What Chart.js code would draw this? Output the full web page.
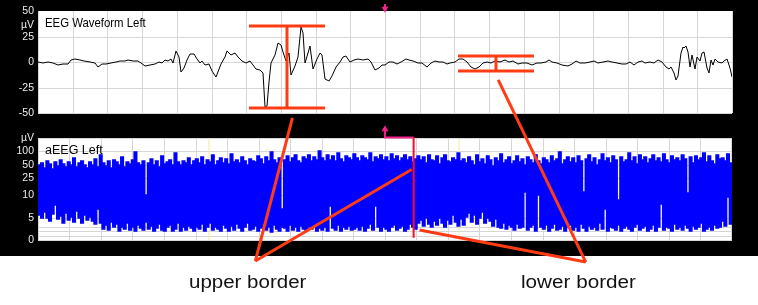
<!DOCTYPE html>
<html><head><meta charset="utf-8">
<script src="https://cdn.jsdelivr.net/npm/chart.js@4.4.1/dist/chart.umd.min.js"></script>
<style>
html,body{margin:0;padding:0;background:#fff;}
#stage{position:relative;width:758px;height:305px;overflow:hidden;background:#fff;}
#dark{position:absolute;left:0;top:0;width:758px;height:256px;background:#000;}
canvas{position:absolute;left:0;}
#eeg{top:0;}
#aeeg{top:128px;}
#overlay{top:0;pointer-events:none;}
.lbl{position:absolute;white-space:nowrap;font-family:'Liberation Sans',Arial,sans-serif;line-height:1;transform-origin:0 0;color:#000;}
</style></head>
<body>
<div id="stage">
  <div id="dark"></div>
  <canvas id="eeg" width="758" height="125"></canvas>
  <canvas id="aeeg" width="758" height="127"></canvas>
  <div class="lbl" style="left:45px;top:15.7px;font-size:13px;transform:scaleX(0.875);">EEG Waveform Left</div>
  <div class="lbl" style="left:45px;top:143.7px;font-size:12.5px;">aEEG Left</div>
  <canvas id="overlay" width="758" height="305"></canvas>
  <div class="lbl" style="left:189px;top:274.4px;font-size:17.6px;transform:scaleX(1.165);color:#111;">upper border</div>
  <div class="lbl" style="left:521px;top:274.4px;font-size:17.6px;transform:scaleX(1.175);color:#111;">lower border</div>
</div>
<script>
// ---------------- DATA ----------------
// EEG waveform (time in s, amplitude in µV)
const eegTime = [
  0,0.14,0.29,0.43,0.58,0.72,0.86,0.96,1.06,1.20,
  1.34,1.49,1.63,1.73,1.83,1.97,2.11,2.26,2.35,2.50,
  2.59,2.74,2.88,2.98,3.09,3.22,3.36,3.48,3.57,3.65,
  3.75,3.82,3.89,3.99,4.05,4.11,4.20,4.29,4.37,4.50,
  4.57,4.66,4.73,4.80,4.92,5.00,5.14,5.26,5.38,5.45,
  5.55,5.67,5.76,5.88,6.00,6.10,6.20,6.29,6.39,6.48,
  6.53,6.59,6.65,6.72,6.82,6.92,6.99,7.07,7.16,7.22,
  7.30,7.40,7.49,7.59,7.65,7.70,7.78,7.84,7.93,8.03,
  8.12,8.18,8.28,8.38,8.47,8.60,8.69,8.79,8.89,8.98,
  9.11,9.22,9.37,9.51,9.61,9.70,9.82,9.92,10.00,
  10.12,10.24,10.34,10.46,10.60,10.69,10.82,10.96,11.08,11.20,
  11.33,11.44,11.56,11.68,11.78,11.87,12.02,12.13,12.26,12.35,
  12.48,12.59,12.71,12.81,12.93,13.05,13.17,13.31,13.46,13.57,
  13.70,13.82,13.94,14.08,14.23,14.37,14.51,14.63,14.73,14.82,
  14.95,15.09,15.26,15.38,15.49,15.62,15.76,15.91,16.03,16.15,
  16.29,16.42,16.55,16.68,16.82,16.94,17.06,17.19,17.30,17.40,
  17.49,17.64,17.76,17.88,17.99,18.09,18.18,18.24,18.32,18.38,
  18.45,18.52,18.58,18.63,18.67,18.74,18.80,18.86,18.93,19.00,
  19.07,19.13,19.20,19.27,19.34,19.39,19.46,19.51,19.61,19.70,
  19.78,19.86,19.93,20.00
];
const eegMicrovolts = [
  0.3,-0.7,-0.3,-1.3,-2.9,-1.6,-2.0,1.6,2.6,2.3,
  1.3,0,-0.7,-4.6,-2.0,-2.3,-1.3,0,0.7,1.0,
  2.0,1.3,1.0,-0.7,-3.9,-2.6,-2.0,0.3,-0.7,2.0,
  0.7,3.3,-1.0,11.1,4.6,-9.5,-5.9,2.0,7.5,7.8,
  2.6,-0.7,0.7,-2.6,-1.6,-8.5,-14.4,-2.0,5.2,10.5,
  6.5,8.5,4.6,0.7,-1.3,0.7,-2.9,-6.5,-7.8,-11.1,
  -44.4,-43.1,-19.3,-1.3,6.5,19.0,17.0,9.8,1.3,8.5,
  -12.7,-3.9,4.6,34.0,28.1,-0.7,8.5,15.7,-6.5,2.6,
  8.5,6.9,-16.3,-18.3,-13.7,-4.6,0.3,4.6,5.9,0,
  2.0,3.3,2.0,3.3,0.3,-7.8,-5.9,-2.6,-2.9,
  0,-0.3,-1.6,0.3,3.3,2.0,0.7,-0.7,-1.3,-4.6,
  -0.7,0.7,-0.3,0,-1.6,-1.3,0,2.6,2.9,0.3,
  -4.6,-6.5,-4.6,-0.7,0,-1.0,0.7,0,2.0,-0.3,
  0.7,-2.3,-1.3,-1.0,-2.6,-1.3,-0.7,-0.3,2.3,-0.3,
  -1.0,-2.9,-3.6,-2.0,0.7,-1.3,-0.7,0,0.7,-1.3,
  -0.3,0.7,-0.3,-1.3,-1.6,-1.6,0.3,-2.6,0,1.3,
  -1.0,0.3,-1.0,2.0,-0.3,-5.2,-7.2,-5.2,-11.1,-17.6,
  -13.7,8.5,15.0,13.4,15.7,9.8,-4.6,7.2,-6.5,5.2,
  0.7,8.5,9.8,-6.2,-11.1,2.0,-2.6,2.6,0,-0.7,
  1.3,2.6,-6.2,-14.4
];
const eegTickValues = [50, 36.3, 25, 0, -25, -50];
const eegTickLabels = ['50', 'µV', '25', '0', '-25', '-50'];

// border brackets on the EEG trace: [left, centre, right] time, [upper, lower] level (µV)
const upperBracketTime = [6.07, 7.18, 8.28];
const upperBracketLevels = [35.3, -45.4];
const lowerBracketTime = [12.10, 13.20, 14.30];
const lowerBracketLevels = [6.2, -8.8];

// aEEG: per-column upper and lower envelope (µV)
const aeegUpper = [
  48,55,42,60,51,40,57,46,64,52,44,58,50,72,43,55,62,48,41,57,
  50,66,45,85,53,47,60,42,63,56,49,75,44,58,51,64,98,54,48,61,
  10,55,68,49,60,45,78,52,58,65,50,92,56,48,62,54,70,50,59,66,
  55,76,50,63,58,82,48,61,71,54,67,51,88,57,64,53,74,60,49,68,
  62,56,80,67,52,73,59,95,65,54,70,7,63,78,57,69,85,61,55,74,
  66,82,59,75,64,100,70,60,84,65,77,62,90,68,57,80,72,63,86,69,
  61,78,71,64,92,58,75,67,83,63,74,60,88,66,79,62,70,82,64,76,
  57,68,80,63,73,55,85,65,60,77,52,69,82,61,56,72,64,91,59,67,
  54,75,62,50,82,58,66,52,78,63,47,71,60,86,53,64,74,51,61,80,
  57,68,49,76,63,55,84,61,51,72,65,54,79,59,67,95,52,64,75,58,
  69,53,78,62,12,66,83,56,72,50,64,87,59,70,54,80,63,9,74,57,
  65,91,60,73,52,84,64,76,55,68,82,61,71,58,89,65,54,78,63,70,
  59,85,66,11,74,53,80,64,69,94,57,77,62,51,83,66,72,60,87,55
];
const aeegLower = [
  5.5,4.8,6.2,5.0,4.2,5.8,7.8,4.6,5.4,3.9,6.0,4.5,5.2,4.0,6.5,4.8,3.8,5.6,4.4,5.1,
  4.2,3.6,7.0,3.9,2.4,3.3,2.2,4.0,2.8,3.5,2.1,3.0,2.5,3.8,2.3,2.9,2.0,3.4,2.6,2.2,
  4.0,2.4,3.1,2.0,2.7,3.6,2.2,1.9,2.8,3.3,2.1,2.5,3.7,2.0,2.9,2.3,3.2,2.6,2.0,3.0,
  2.4,3.5,2.1,2.8,3.9,2.2,3.0,2.5,1.9,3.4,2.7,2.0,3.1,2.3,3.6,2.6,2.1,2.9,3.8,2.2,
  2.5,3.2,2.0,2.7,3.5,2.2,2.9,1.8,3.3,2.4,2.1,3.0,2.6,2.0,3.4,2.3,2.8,2.1,3.1,2.5,
  2.2,2.9,2.4,3.3,2.0,2.7,2.3,3.0,2.1,7.5,2.6,2.2,3.4,2.0,2.8,2.4,3.1,2.2,2.5,2.9,
  2.3,3.2,2.0,2.6,3.5,2.2,7.5,2.8,2.1,3.0,2.4,2.0,2.9,3.3,2.2,2.6,3.1,2.0,2.5,3.6,
  3.0,2.4,3.8,4.5,3.2,5.0,3.6,2.8,4.2,3.3,4.8,3.9,2.9,4.4,3.5,5.6,4.0,3.1,4.7,3.4,
  5.2,6.0,4.1,5.5,3.6,4.8,6.3,3.9,5.0,4.3,3.2,4.6,3.0,2.6,3.8,2.4,3.3,2.8,2.2,3.5,
  2.6,3.0,12,2.3,2.8,3.4,2.1,10,2.9,2.4,3.3,2.0,2.7,3.6,2.2,2.5,3.1,2.0,2.8,3.4,
  2.3,2.9,2.1,3.5,2.6,2.0,3.2,2.4,2.8,2.2,3.7,2.5,7.0,2.1,3.0,2.6,2.2,3.3,2.0,2.7,
  3.1,2.4,2.0,2.9,3.6,2.2,2.7,3.2,2.1,2.5,3.4,2.0,2.8,8.0,2.3,3.0,2.6,2.1,3.5,2.4,
  2.9,2.2,3.3,2.6,2.0,3.1,2.4,2.8,3.7,2.1,2.5,3.0,2.2,3.4,2.6,2.9,4.2,3.1,9.5,3.6
];
const aeegTickValues = [0, 1, 2, 3, 5, 10, 25, 50, 100, 200];
const aeegTickLabels = ['0', '', '', '', '5', '10', '25', '50', '100', 'µV'];
// event markers on the aEEG time axis (grid units)
const aeegMarkerTimes = [4.93, 12.86];

// annotation overlay (page coordinates): callout lines and cursor marker
const upperCalloutStarts = [[291.5, 117], [412, 170]];
const upperCalloutTip = [254, 264];
const lowerCalloutStarts = [[499.5, 78], [420, 232]];
const lowerCalloutTip = [588, 265];
const cursorPinkPath = [[385, 129], [385, 137], [414, 137]];
const cursorRedPath = [[414, 137], [414, 240]];
const cursorTopStem = [[385, 0], [385, 3]];
const cursorArrowUp = [385, 128.5];
const cursorArrowDown = [385, 5];

// ---------------- RENDER ----------------
const FONT = "'Liberation Sans', Arial, sans-serif";
Chart.defaults.font.family = FONT;
const GRID = '#d6d6d6';
const RED = '#ff3c14';
const TICK_COLOR = '#ececec';

const whiteArea = {
  id: 'whiteArea',
  beforeDraw(chart) {
    const a = chart.chartArea, c = chart.ctx;
    c.save(); c.fillStyle = '#ffffff';
    c.fillRect(a.left, a.top, a.right - a.left, a.bottom - a.top);
    c.restore();
  }
};

// semi-logarithmic amplitude scale used by aEEG (linear 0-10 µV, log above)
class SemiLogScale extends Chart.Scale {
  determineDataLimits() { this.min = this.options.min; this.max = this.options.max; }
  buildTicks() { return aeegTickValues.map(v => ({ value: v })); }
  getLabelForValue(v) { return String(v); }
  _dec(v) {
    const lin = this.options.linearMax, frac = this.options.linearFraction;
    if (v <= lin) return (v - this.min) / (lin - this.min) * frac;
    return frac + (1 - frac) * Math.log10(v / lin) / Math.log10(this.max / lin);
  }
  getPixelForValue(v) { return this.getPixelForDecimal(this._dec(v)); }
  getValueForPixel(p) {
    const d = this.getDecimalForPixel(p);
    const lin = this.options.linearMax, frac = this.options.linearFraction;
    if (d <= frac) return this.min + d / frac * (lin - this.min);
    return lin * Math.pow(this.max / lin, (d - frac) / (1 - frac));
  }
}
SemiLogScale.id = 'semilog';
SemiLogScale.defaults = {};
Chart.register(SemiLogScale);

const seg = (pts, color, width) => ({
  type: 'line', data: pts.map(p => ({ x: p[0], y: p[1] })),
  borderColor: color, borderWidth: width, pointRadius: 0, fill: false, tension: 0, order: 0, clip: false
});

// ---- EEG chart ----
const bracketSegs = (t, lv) => [
  seg([[t[0], lv[0]], [t[2], lv[0]]], RED, 3),
  seg([[t[0], lv[1]], [t[2], lv[1]]], RED, 3),
  seg([[t[1], lv[0]], [t[1], lv[1]]], RED, 3)
];
new Chart(document.getElementById('eeg'), {
  type: 'line',
  data: {
    datasets: [
      ...bracketSegs(upperBracketTime, upperBracketLevels),
      ...bracketSegs(lowerBracketTime, lowerBracketLevels),
      {
        data: eegTime.map((t, i) => ({ x: t, y: eegMicrovolts[i] })),
        borderColor: '#000', borderWidth: 1, pointRadius: 0, tension: 0, order: 1
      }
    ]
  },
  options: {
    responsive: false, animation: false, devicePixelRatio: 1, events: [],
    layout: { padding: { left: 0, top: 11, right: 26, bottom: 12 } },
    plugins: { legend: { display: false }, tooltip: { enabled: false } },
    scales: {
      x: {
        type: 'linear', min: 0, max: 20, alignToPixels: true,
        afterFit(s) { s.height = 0; },
        ticks: { display: false, stepSize: 1 },
        grid: { color: GRID, drawTicks: false },
        border: { display: false }
      },
      y: {
        type: 'linear', min: -50, max: 50, alignToPixels: true,
        afterFit(s) { s.width = 38; },
        afterBuildTicks(s) { s.ticks = eegTickValues.map(v => ({ value: v })); },
        ticks: {
          color: TICK_COLOR, font: { size: 10.5 }, padding: 4, autoSkip: false,
          callback: (v, i) => eegTickLabels[i]
        },
        grid: {
          drawTicks: false,
          color: c => (c.index === 0 || c.index === 1) ? 'rgba(0,0,0,0)' : GRID
        },
        border: { display: false }
      }
    }
  },
  plugins: [whiteArea]
});

// ---- aEEG chart ----
new Chart(document.getElementById('aeeg'), {
  type: 'bar',
  data: {
    labels: aeegUpper.map((_, i) => i),
    datasets: [
      {
        data: aeegUpper.map((h, i) => [aeegLower[i], h]),
        backgroundColor: '#0000ff', borderColor: '#0000ff', borderWidth: 0,
        barPercentage: 1, categoryPercentage: 1, inflateAmount: 0.7,
        grouped: false, order: 0
      },
      ...aeegMarkerTimes.map(t => ({
        type: 'line', xAxisID: 'xg',
        data: [{ x: t, y: 0 }, { x: t, y: 200 }],
        borderColor: '#f1ec9c', borderWidth: 1, pointRadius: 0, order: 2
      }))
    ]
  },
  options: {
    responsive: false, animation: false, devicePixelRatio: 1, events: [],
    layout: { padding: { left: 0, top: 10, right: 26, bottom: 15 } },
    plugins: { legend: { display: false }, tooltip: { enabled: false } },
    scales: {
      x: { type: 'category', display: false },
      xg: {
        type: 'linear', position: 'bottom', min: 0, max: 21, alignToPixels: true,
        afterFit(s) { s.height = 0; },
        ticks: { display: false, stepSize: 1 },
        grid: { color: GRID, drawTicks: false },
        border: { display: false }
      },
      y: {
        type: 'semilog', min: 0, max: 200, linearMax: 10, linearFraction: 45 / 102,
        position: 'left', alignToPixels: true,
        afterFit(s) { s.width = 38; },
        ticks: {
          color: TICK_COLOR, font: { size: 10.5 }, padding: 4, autoSkip: false,
          callback: (v, i) => aeegTickLabels[i]
        },
        grid: { drawTicks: false, color: GRID },
        border: { display: false }
      }
    }
  },
  plugins: [whiteArea]
});

// ---- annotation overlay ----
const PINK = '#f5208c';
const overlaySets = [
  ...upperCalloutStarts.map(s => seg([s, upperCalloutTip], RED, 3)),
  ...lowerCalloutStarts.map(s => seg([s, lowerCalloutTip], RED, 3)),
  seg(cursorPinkPath, PINK, 2),
  seg(cursorRedPath, '#ff0a2a', 2),
  seg(cursorTopStem, PINK, 2),
  {
    type: 'scatter', data: [{ x: cursorArrowUp[0], y: cursorArrowUp[1] }],
    pointStyle: 'triangle', pointRadius: 4, pointRotation: 0,
    backgroundColor: PINK, borderWidth: 0, clip: false
  },
  {
    type: 'scatter', data: [{ x: cursorArrowDown[0], y: cursorArrowDown[1] }],
    pointStyle: 'triangle', pointRadius: 4, pointRotation: 180,
    backgroundColor: PINK, borderWidth: 0, clip: false
  }
];
new Chart(document.getElementById('overlay'), {
  type: 'scatter',
  data: { datasets: overlaySets },
  options: {
    responsive: false, animation: false, devicePixelRatio: 1, events: [],
    layout: { padding: 0 },
    plugins: { legend: { display: false }, tooltip: { enabled: false } },
    scales: {
      x: { type: 'linear', min: 0, max: 758, display: false },
      y: { type: 'linear', min: 0, max: 305, reverse: true, display: false }
    }
  }
});
</script>
</body></html>
